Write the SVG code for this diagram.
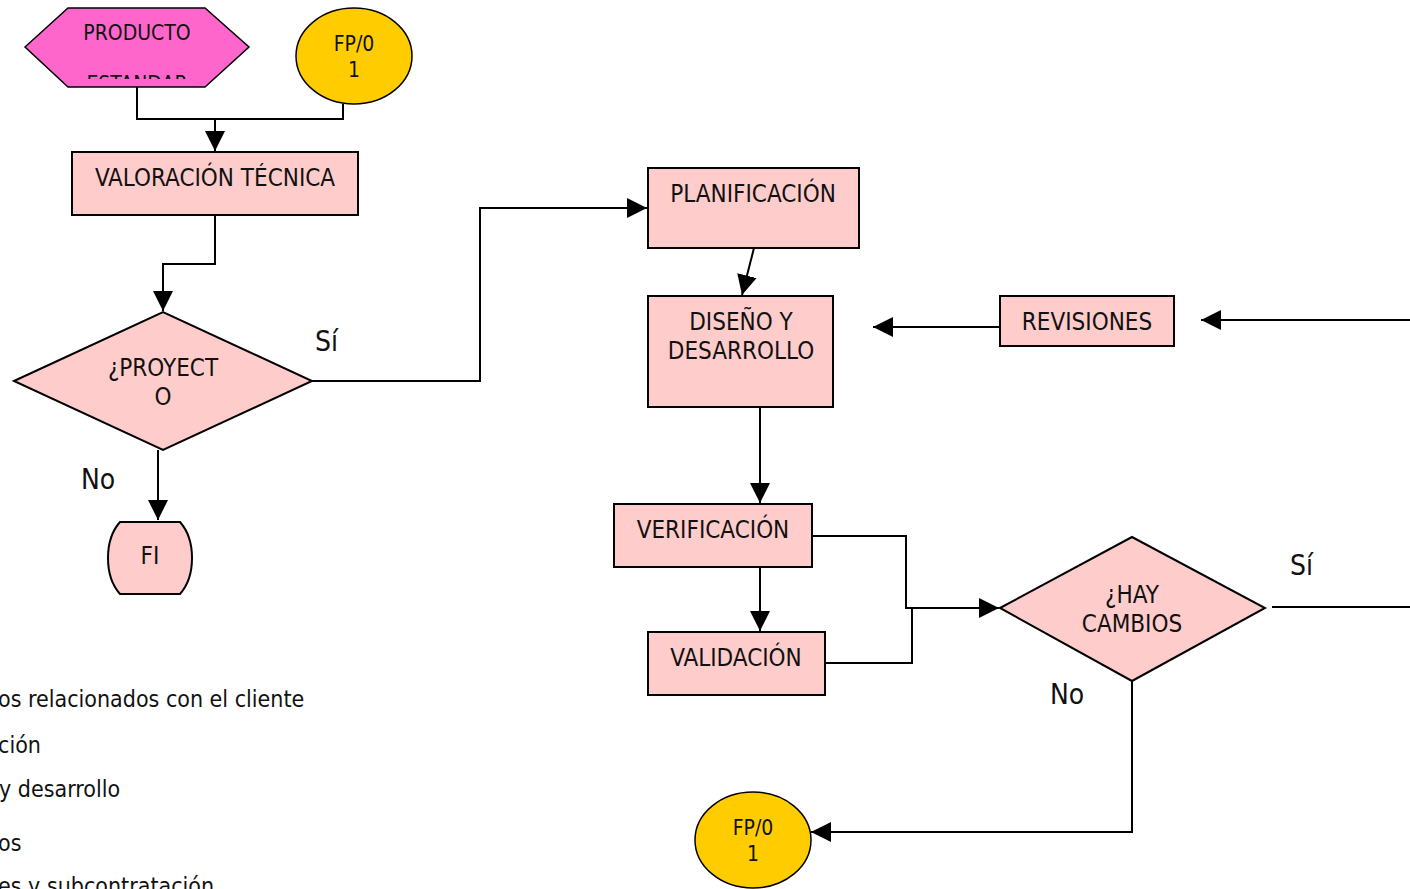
<svg xmlns="http://www.w3.org/2000/svg" width="1410" height="889" viewBox="0 0 1410 889">
  <style>
    .box { fill: #FFCCCC; stroke: #000; stroke-width: 2; }
    .hex { fill: #FF66CC; stroke: #000; stroke-width: 1.5; }
    .conn { fill: #FFCC00; stroke: #000; stroke-width: 1.5; }
    .line { fill: none; stroke: #000; stroke-width: 2; }
    .t { font-family: "DejaVu Sans Condensed", "DejaVu Sans", sans-serif; fill: #111; text-anchor: middle; }
    .big { font-size: 24px; }
    .small { font-size: 21px; }
    .lbl { font-family: "DejaVu Sans Condensed", "DejaVu Sans", sans-serif; fill: #111; font-size: 28px; }
    .list { font-family: "DejaVu Sans Condensed", "DejaVu Sans", sans-serif; fill: #111; font-size: 23px; }
  </style>
  <defs>
    <marker id="arr" viewBox="0 0 10 10" refX="10" refY="5" markerWidth="20" markerHeight="20" markerUnits="userSpaceOnUse" orient="auto">
      <path d="M0,0 L10,5 L0,10 Z" fill="#000"/>
    </marker>
    <clipPath id="hexclip">
      <rect x="25" y="8" width="224" height="71"/>
    </clipPath>
  </defs>
  <rect width="1410" height="889" fill="#fff"/>

  <!-- connectors -->
  <g id="connectors">
    <polyline class="line" points="137,87 137,119 343,119 343,104"/>
    <line class="line" x1="215" y1="119" x2="215" y2="151" marker-end="url(#arr)"/>
    <polyline class="line" points="215,215 215,264 163,264 163,311" marker-end="url(#arr)"/>
    <polyline class="line" points="312,381 480,381 480,208 647,208" marker-end="url(#arr)"/>
    <line class="line" x1="158" y1="450" x2="158" y2="520" marker-end="url(#arr)"/>
    <line class="line" x1="754" y1="248" x2="742" y2="295" marker-end="url(#arr)"/>
    <line class="line" x1="760" y1="407" x2="760" y2="503" marker-end="url(#arr)"/>
    <line class="line" x1="760" y1="567" x2="760" y2="631" marker-end="url(#arr)"/>
    <polyline class="line" points="812,536 906,536 906,608 999,608" marker-end="url(#arr)"/>
    <polyline class="line" points="825,663 912,663 912,608"/>
    <line class="line" x1="1272" y1="607" x2="1410" y2="607"/>
    <polyline class="line" points="1132,681 1132,832 811,832" marker-end="url(#arr)"/>
    <line class="line" x1="1000" y1="327" x2="873" y2="327" marker-end="url(#arr)"/>
    <line class="line" x1="1410" y1="320" x2="1201" y2="320" marker-end="url(#arr)"/>
  </g>

  <!-- branch labels -->
  <g id="labels">
    <text class="lbl" x="315" y="351">Sí</text>
    <text class="lbl" x="81" y="489">No</text>
    <text class="lbl" x="1290" y="575">Sí</text>
    <text class="lbl" x="1050" y="704">No</text>
  </g>

  <g id="producto">
    <polygon class="hex" points="25,47 68,8 205,8 249,47 205,87 68,87"/>
    <g clip-path="url(#hexclip)">
      <text class="t" x="137" y="40" font-size="21">PRODUCTO</text>
      <text class="t" x="137" y="91" font-size="21">ESTANDAR</text>
    </g>
  </g>

  <g id="fp01-top">
    <ellipse class="conn" cx="354" cy="56" rx="58" ry="48"/>
    <text class="t small" x="354" y="51">FP/0</text>
    <text class="t small" x="354" y="77">1</text>
  </g>

  <g id="valoracion">
    <rect class="box" x="72" y="152" width="286" height="63"/>
    <text class="t big" x="215" y="186">VALORACIÓN TÉCNICA</text>
  </g>

  <g id="proyecto">
    <polygon class="box" points="14,381 163,312 312,381 163,450"/>
    <text class="t big" x="163" y="376">¿PROYECT</text>
    <text class="t big" x="163" y="405">O</text>
  </g>

  <g id="fi">
    <path class="box" d="M120,522 H180 C196,540 196,576 180,594 H120 C104,576 104,540 120,522 Z"/>
    <text class="t big" x="150" y="564">FI</text>
  </g>

  <g id="planificacion">
    <rect class="box" x="648" y="168" width="211" height="80"/>
    <text class="t big" x="753" y="202">PLANIFICACIÓN</text>
  </g>

  <g id="diseno">
    <rect class="box" x="648" y="296" width="185" height="111"/>
    <text class="t big" x="741" y="330">DISEÑO Y</text>
    <text class="t big" x="741" y="359">DESARROLLO</text>
  </g>

  <g id="revisiones">
    <rect class="box" x="1000" y="296" width="174" height="50"/>
    <text class="t big" x="1087" y="330">REVISIONES</text>
  </g>

  <g id="verificacion">
    <rect class="box" x="614" y="504" width="198" height="63"/>
    <text class="t big" x="713" y="538">VERIFICACIÓN</text>
  </g>

  <g id="validacion">
    <rect class="box" x="648" y="632" width="177" height="63"/>
    <text class="t big" x="736" y="666">VALIDACIÓN</text>
  </g>

  <g id="hay-cambios">
    <polygon class="box" points="1000,608 1132,537 1265,608 1132,681"/>
    <text class="t big" x="1132" y="603">¿HAY</text>
    <text class="t big" x="1132" y="632">CAMBIOS</text>
  </g>

  <g id="fp01-bottom">
    <ellipse class="conn" cx="753" cy="840" rx="58" ry="48"/>
    <text class="t small" x="753" y="835">FP/0</text>
    <text class="t small" x="753" y="861">1</text>
  </g>

  <!-- process list along the left edge -->
  <g id="process-list">
    <text class="list" x="-2" y="707">os relacionados con el cliente</text>
    <text class="list" x="-2" y="753">ción</text>
    <text class="list" x="-1" y="797">y desarrollo</text>
    <text class="list" x="-2" y="851">os</text>
    <text class="list" x="-2" y="894">es y subcontratación</text>
  </g>
</svg>
